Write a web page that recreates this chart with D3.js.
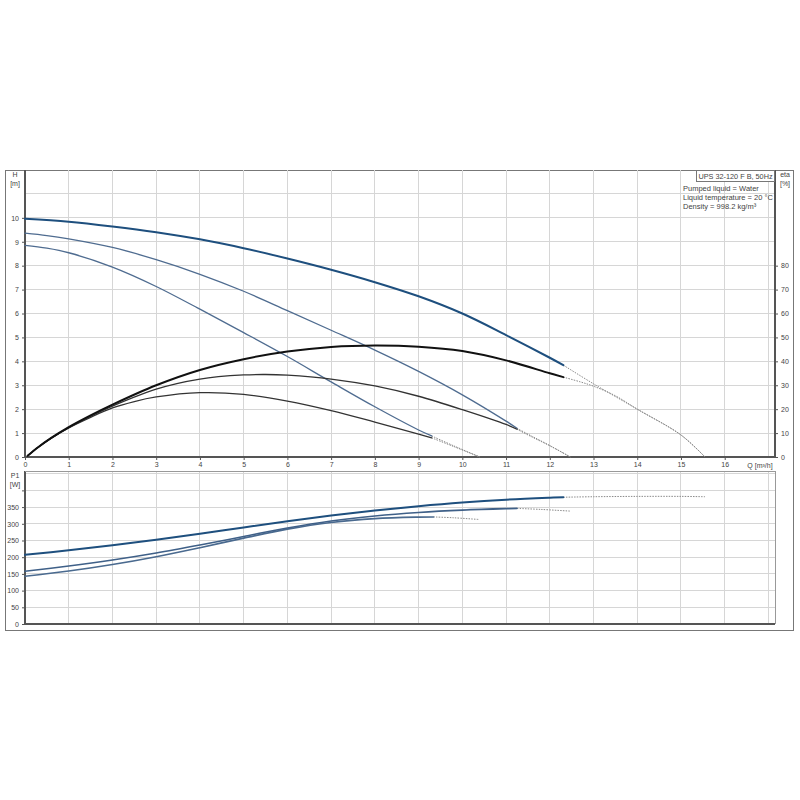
<!DOCTYPE html>
<html><head><meta charset="utf-8">
<script src="https://cdn.jsdelivr.net/npm/d3@7"></script>
<style>body{margin:0;background:#fff}svg{display:block}text{font-family:"Liberation Sans",Arial,sans-serif;fill:#444}</style>
</head><body>
<script>
// ---- data ----
const qTicks = [0,1,2,3,4,5,6,7,8,9,10,11,12,13,14,15,16];
const hTicks = [0,1,2,3,4,5,6,7,8,9,10];
const etaTicks = [0,10,20,30,40,50,60,70,80];
const pTicks = [0,50,100,150,200,250,300,350];
const titleText = "UPS 32-120 F B, 50Hz";
const infoLines = ["Pumped liquid = Water","Liquid temperature = 20 °C","Density = 998.2 kg/m³"];

// head curves [Q, H]
const head3 = [[0,9.96],[1,9.84],[2,9.64],[3,9.4],[4,9.1],[5,8.73],[6,8.3],[7,7.83],[8,7.31],[9,6.72],[10,6.0],[11,5.1],[12,4.15],[12.31,3.84]];
const head3Ext = [[12.31,3.84],[13,3.06],[14,2.0],[15,0.92],[15.55,0]];
const head2 = [[0,9.36],[0.5,9.26],[1,9.12],[2,8.76],[3,8.25],[4,7.64],[5,6.93],[6,6.12],[7,5.3],[8,4.47],[9,3.58],[10,2.6],[11,1.5],[11.25,1.2]];
const head2Ext = [[11.25,1.2],[11.6,0.86],[12,0.48],[12.47,0]];
const head1 = [[0,8.85],[0.5,8.73],[1,8.54],[2,7.94],[3,7.13],[4,6.18],[5,5.2],[6,4.2],[7,3.14],[8,2.1],[9,1.13],[9.3,0.88]];
const head1Ext = [[9.3,0.88],[9.8,0.47],[10.4,0]];
// efficiency curves [Q, eta %]
const eta3 = [[0.06,0.5],[0.3,4.1],[0.6,8.0],[1,12.5],[1.5,17.4],[2,21.9],[3,30],[4,36.4],[5,40.9],[6,44.1],[7,46],[8,46.6],[9,46.1],[10,44.3],[11,40.4],[12,35],[12.31,33.4]];
const eta3Ext = [[12.31,33.4],[12.7,31.4],[13,29.6],[13.5,25.6],[14,20],[15,9.2],[15.55,0]];
const eta2 = [[0.06,0.5],[0.3,4.1],[0.6,7.9],[1,12.3],[1.5,17.0],[2,21.3],[3,28.4],[4,32.6],[5,34.3],[5.5,34.5],[6,34.2],[7,32.6],[8,29.7],[9,25.4],[10,19.8],[11,13.6],[11.25,11.6]];
const eta2Ext = [[11.25,11.6],[11.6,8.3],[12,4.7],[12.47,0]];
const eta1 = [[0.06,0.5],[0.3,4.1],[0.6,7.9],[1,12.2],[1.5,16.6],[2,20.5],[2.5,23.2],[3,25.1],[4,26.9],[5,26.2],[6,23.4],[7,19.4],[8,14.6],[9,9.6],[9.3,8]];
const eta1Ext = [[9.3,8],[9.8,4.4],[10.4,0]];
// power curves [Q, P1 W]
const power3 = [[0,207],[1,220.5],[2,235.5],[3,252],[4,270],[5,289],[6,307.5],[7,324.5],[8,339.5],[9,352.5],[10,363.5],[11,372],[12,378],[12.31,379.5]];
const power3Ext = [[12.31,379.5],[13,381],[14,382],[15,382],[15.55,381]];
const power2 = [[0,158],[1,173.5],[2,191.5],[3,212.5],[4,236.5],[5,262],[6,287.5],[7,308.5],[8,323.5],[9,334],[10,341],[11,345.3],[11.25,346]];
const power2Ext = [[11.25,346],[11.8,343],[12.46,338]];
const power1 = [[0,143],[1,158.5],[2,178],[3,201.5],[4,228.5],[5,257],[6,284],[7,304],[8,315.5],[9,320],[9.34,320.5]];
const power1Ext = [[9.34,320.5],[9.8,318],[10.37,313]];

// ---- layout ----
const W = 800, H = 800;
const svg = d3.select("body").append("svg").attr("width",W).attr("height",H);
const L = 25, R = 775;
const topT = 170, topB = 457, botT = 471, botB = 624;
const x = d3.scaleLinear().domain([0,17.15]).range([L,R]);
const yH = d3.scaleLinear().domain([0,12]).range([topB,topT]);
const yE = d3.scaleLinear().domain([0,120]).range([topB,topT]);
const yP = d3.scaleLinear().domain([0,458]).range([botB,botT]);
const gridC = "#d6d6d6", axisC = "#555";

// outer frame
svg.append("rect").attr("x",5.5).attr("y",170.5).attr("width",788).attr("height",460)
  .attr("fill","none").attr("stroke","#777").attr("stroke-width",1);

// grids
const gq = d3.range(1,18);
const g = svg.append("g").attr("stroke",gridC).attr("stroke-width",1).attr("shape-rendering","crispEdges");
gq.forEach(q=>{
  g.append("line").attr("x1",x(q)).attr("x2",x(q)).attr("y1",topT).attr("y2",topB);
  g.append("line").attr("x1",x(q)).attr("x2",x(q)).attr("y1",botT).attr("y2",botB);
});
d3.range(1,12).forEach(h=>g.append("line").attr("x1",L).attr("x2",R).attr("y1",yH(h)).attr("y2",yH(h)));
d3.range(50,451,50).forEach(p=>g.append("line").attr("x1",L).attr("x2",R).attr("y1",yP(p)).attr("y2",yP(p)));

// axes
const fs = 7;
const axL = svg.append("g").attr("transform",`translate(${L},0)`)
  .call(d3.axisLeft(yH).tickValues(hTicks).tickSize(3).tickPadding(3).tickFormat(d3.format("d")));
const axR = svg.append("g").attr("transform",`translate(${R},0)`)
  .call(d3.axisRight(yE).tickValues(etaTicks).tickSize(3).tickPadding(3).tickFormat(d3.format("d")));
const axB = svg.append("g").attr("transform",`translate(0,${topB})`)
  .call(d3.axisBottom(x).tickValues(qTicks).tickSize(3).tickPadding(2).tickFormat(d3.format("d")));
const axP = svg.append("g").attr("transform",`translate(${L},0)`)
  .call(d3.axisLeft(yP).tickValues(pTicks.concat([400])).tickSize(3).tickPadding(3)
    .tickFormat(d=>d===400?"":d));
[axL,axR,axB,axP].forEach(a=>{
  a.selectAll(".domain").remove();
  a.selectAll("line").attr("stroke",axisC);
  a.selectAll("text").attr("font-size",fs).attr("fill","#444").attr("font-family","Liberation Sans, Arial, sans-serif");
});
// axis lines
const al = svg.append("g").attr("stroke",axisC).attr("stroke-width",1.2).attr("shape-rendering","crispEdges");
al.append("line").attr("x1",L).attr("x2",L).attr("y1",topT).attr("y2",topB);
al.append("line").attr("x1",L).attr("x2",R).attr("y1",topB).attr("y2",topB);
al.append("line").attr("x1",R).attr("x2",R).attr("y1",topT).attr("y2",topB);
al.append("line").attr("x1",L).attr("x2",L).attr("y1",botT).attr("y2",botB);
al.append("line").attr("x1",L).attr("x2",R).attr("y1",botB).attr("y2",botB);
svg.append("g").attr("stroke","#999").attr("stroke-width",1).attr("shape-rendering","crispEdges")
  .call(s=>{
    s.append("line").attr("x1",L).attr("x2",R).attr("y1",botT).attr("y2",botT);
    s.append("line").attr("x1",R).attr("x2",R).attr("y1",botT).attr("y2",botB);
  });

// axis titles
const t = (xx,yy,txt,anchor="middle",size=fs)=>svg.append("text").attr("x",xx).attr("y",yy).attr("font-size",size)
  .attr("text-anchor",anchor).text(txt);
t(15,177,"H"); t(15,186,"[m]");
t(785,177,"eta"); t(785,186,"[%]");
t(15,478,"P1"); t(15,487,"[W]");
t(760,468,"Q [m³/h]");

// legend box
svg.append("rect").attr("x",696.5).attr("y",170.5).attr("width",78).attr("height",11)
  .attr("fill","#fff").attr("stroke","#777");
t(735.5,179,titleText,"middle",7.3);
infoLines.forEach((s,i)=>t(683,191+i*9,s,"start",7.5));

// curves
const line = (ys)=>d3.line().x(d=>x(d[0])).y(d=>ys(d[1])).curve(d3.curveCatmullRom.alpha(0.5));
const draw = (data,ys,color,w,dash)=>{
  const p = svg.append("path").datum(data).attr("d",line(ys)).attr("fill","none")
    .attr("stroke",color).attr("stroke-width",w).attr("stroke-linecap","round");
  if(dash) p.attr("stroke-dasharray",dash).attr("stroke-linecap","butt");
};
const dotC = "#8a8a8a", dash = "1.5,1.2";
[head3Ext,head2Ext,head1Ext].forEach(d=>draw(d,yH,dotC,1,dash));
[eta3Ext,eta2Ext,eta1Ext].forEach(d=>draw(d,yE,dotC,1,dash));
[power3Ext,power2Ext,power1Ext].forEach(d=>draw(d,yP,dotC,1,dash));
draw(head1,yH,"#4f6c90",1.3);
draw(head2,yH,"#4f6c90",1.3);
draw(head3,yH,"#1e4f7e",2);
draw(eta1,yE,"#333",1.3);
draw(eta2,yE,"#333",1.3);
draw(eta3,yE,"#111",2);
draw(power1,yP,"#4a6a8f",1.6);
draw(power2,yP,"#3f6088",1.6);
draw(power3,yP,"#1e4f7e",2);
</script>
</body></html>
